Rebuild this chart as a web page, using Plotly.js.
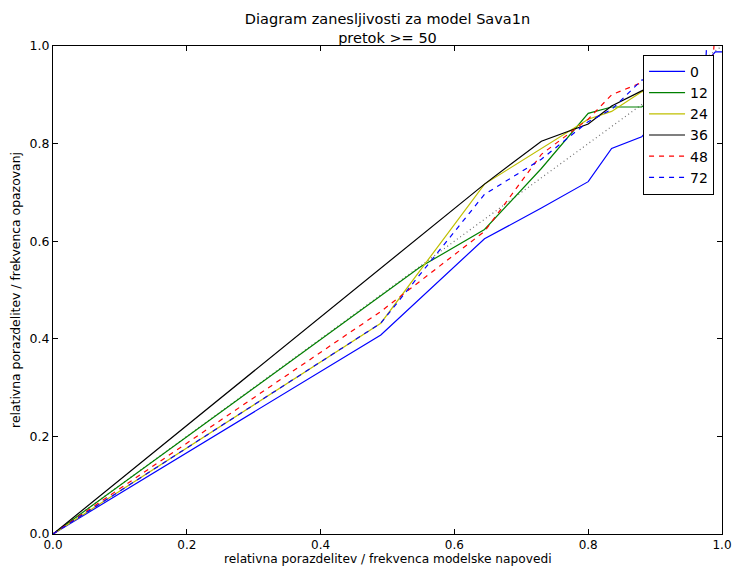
<!DOCTYPE html>
<html>
<head>
<meta charset="utf-8">
<script src="https://cdn.plot.ly/plotly-3.0.1.min.js"></script>
<style>html,body{margin:0;padding:0;background:#fff;}#chart{width:732px;height:566px;}</style>
</head>
<body>
<div id="chart"></div>
<script>
// Data
const seriesNames = ["0", "12", "24", "36", "48", "72"];
const x0  = [0, 0.49, 0.645, 0.73, 0.80, 0.835, 0.88, 0.99, 1.0];
const y0  = [0, 0.408, 0.605, 0.668, 0.722, 0.790, 0.814, 0.988, 0.988];
const x12 = [0, 0.55, 0.645, 0.73, 0.80, 0.835, 0.88, 0.96];
const y12 = [0, 0.548, 0.624, 0.749, 0.862, 0.875, 0.875, 0.96];
const x24 = [0, 0.49, 0.645, 0.73, 0.80, 0.835, 0.88, 0.96];
const y24 = [0, 0.432, 0.717, 0.790, 0.850, 0.866, 0.906, 0.96];
const x36 = [0, 0.645, 0.73, 0.80, 0.835, 0.88, 0.96];
const y36 = [0, 0.717, 0.805, 0.840, 0.877, 0.908, 0.96];
const x48 = [0, 0.49, 0.645, 0.73, 0.80, 0.835, 0.88, 0.985, 0.988];
const y48 = [0, 0.456, 0.620, 0.778, 0.850, 0.900, 0.925, 0.95, 1.0];
const x72 = [0, 0.49, 0.645, 0.73, 0.80, 0.835, 0.88, 0.975, 0.977];
const y72 = [0, 0.432, 0.696, 0.768, 0.845, 0.870, 0.930, 0.95, 1.0];
const xDiag = [0, 1];
const yDiag = [0, 1];
const tickVals = [0, 0.2, 0.4, 0.6, 0.8, 1.0];
const tickText = ["0.0", "0.2", "0.4", "0.6", "0.8", "1.0"];
const xTitle = "relativna porazdelitev / frekvenca modelske napovedi";
const yTitle = "relativna porazdelitev / frekvenca opazovanj";

const colors = ["#0000ff", "#008000", "#bfbf00", "#000000", "#ff0000", "#0000ff"];
const dashes = ["solid", "solid", "solid", "solid", "5px,5px", "5px,5px"];
const xs = [x0, x12, x24, x36, x48, x72];
const ys = [y0, y12, y24, y36, y48, y72];

const traces = [{
  x: xDiag, y: yDiag, mode: "lines", showlegend: false,
  line: {color: "#707070", width: 1.2, dash: "1px,3px"}, hoverinfo: "skip"
}];
for (let i = 0; i < seriesNames.length; i++) {
  traces.push({
    x: xs[i], y: ys[i], name: seriesNames[i], mode: "lines",
    line: {color: colors[i], width: 1.2, dash: dashes[i]}
  });
}

const axisCommon = {
  range: [0, 1], tickvals: tickVals, ticktext: tickText,
  ticks: "inside", ticklen: 5, tickwidth: 1, tickcolor: "#000",
  showline: true, linecolor: "#000", linewidth: 1, mirror: "allticks",
  showgrid: false, zeroline: false, fixedrange: true,
  ticklabeloverflow: "allow",
  tickfont: {family: "DejaVu Sans", size: 12.5, color: "#000"}
};

const layout = {
  width: 732, height: 566,
  margin: {l: 53, r: 10, t: 46, b: 32},
  paper_bgcolor: "#fff", plot_bgcolor: "#fff",
  font: {family: "DejaVu Sans", color: "#000"},
  title: {
    text: "Diagram zanesljivosti za model Sava1n<br>pretok >= 50",
    font: {family: "DejaVu Sans", size: 14.5, color: "#000"},
    x: 0.5, xref: "paper", xanchor: "center", y: 0.957, yanchor: "top"
  },
  xaxis: Object.assign({}, axisCommon, {tickfont: {family: "DejaVu Sans", size: 12, color: "#000"}}),
  yaxis: Object.assign({}, axisCommon, {
    title: {text: yTitle,
            font: {family: "DejaVu Sans", size: 12.4, color: "#000"}, standoff: 6}
  }),
  annotations: [{
    text: xTitle, xref: "paper", yref: "paper", x: 0.5, y: -0.0328,
    xanchor: "center", yanchor: "top", showarrow: false,
    font: {family: "DejaVu Sans", size: 12.2, color: "#000"}
  }],
  showlegend: true,
  legend: {
    x: 0.882, y: 0.982, xanchor: "left", yanchor: "top",
    bgcolor: "#fff", bordercolor: "#000", borderwidth: 1,
    font: {family: "DejaVu Sans", size: 14, color: "#000"},
    itemwidth: 36, tracegroupgap: 0
  }
};

Plotly.newPlot("chart", traces, layout, {displayModeBar: false, staticPlot: true});
</script>
</body>
</html>
